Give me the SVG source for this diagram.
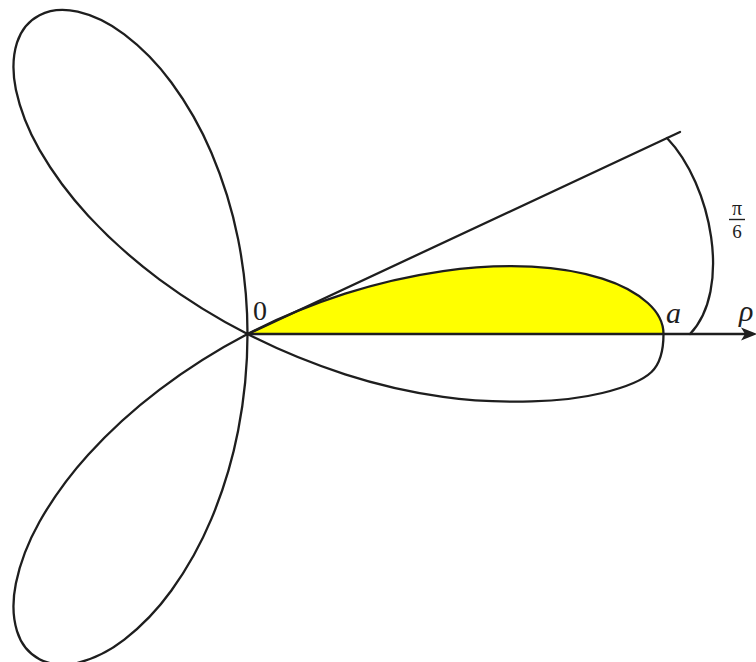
<svg xmlns="http://www.w3.org/2000/svg" width="756" height="662" viewBox="0 0 756 662">
<style>
.c{fill:none;stroke:#1e1e1e;stroke-width:2.3;stroke-linejoin:round;stroke-linecap:round}
.t{font-family:"Liberation Serif","DejaVu Serif",serif;fill:#1e1e1e}
.i{font-style:italic}
</style>
<rect width="756" height="662" fill="#ffffff"/>
<g id="shaded-region">
<path fill="#ffff00" stroke="none" d="M247.5,334 C278.9,317.9 312.5,304.2 345.1,293.7 C377.7,283.2 411.9,275.6 443,271.1 C474.1,266.6 505.2,265.4 531.7,266.6 C558.3,267.9 583,272.5 602.3,278.6 C621.7,284.7 637.6,293.8 647.8,303 C658,312.2 663.5,323.3 663.5,334 Z"/>
</g>
<g id="leaf-top">
<path class="c" d="M247.5,334 C247.5,301.9 244.1,269.3 238.1,239.1 C232.1,208.9 222.5,178.8 211.4,152.7 C200.3,126.6 185.9,102.2 171.4,82.5 C156.9,62.8 139.9,46.2 124.3,34.4 C108.7,22.6 91.8,14.9 77.7,11.7 C63.6,8.5 49.6,10 39.5,15.2 C29.4,20.4 20.9,30.3 17,42.7 C13.1,55.1 12.2,71.8 15.9,89.7 C19.7,107.6 27.5,128.9 39.5,149.9 C51.6,170.9 68.2,194.1 88.2,215.7 C108.2,237.3 132.8,259.6 159.3,279.3 C185.9,299 216.1,317.9 247.5,334"/>
</g>
<g id="leaf-bottom">
<path class="c" vector-effect="non-scaling-stroke" transform="matrix(1 0 0 -1.02 0 674.68)" d="M247.5,334 C247.5,301.9 244.1,269.3 238.1,239.1 C232.1,208.9 222.5,178.8 211.4,152.7 C200.3,126.6 185.9,102.2 171.4,82.5 C156.9,62.8 139.9,46.2 124.3,34.4 C108.7,22.6 91.8,14.9 77.7,11.7 C63.6,8.5 49.6,10 39.5,15.2 C29.4,20.4 20.9,30.3 17,42.7 C13.1,55.1 12.2,71.8 15.9,89.7 C19.7,107.6 27.5,128.9 39.5,149.9 C51.6,170.9 68.2,194.1 88.2,215.7 C108.2,237.3 132.8,259.6 159.3,279.3 C185.9,299 216.1,317.9 247.5,334"/>
</g>
<g id="leaf-right">
<path class="c" d="M247.5,334 C278.9,317.9 312.5,304.2 345.1,293.7 C377.7,283.2 411.9,275.6 443,271.1 C474.1,266.6 505.2,265.4 531.7,266.6 C558.3,267.9 583,272.5 602.3,278.6 C621.7,284.7 637.6,293.8 647.8,303 C658,312.2 663.5,323.3 663.5,334 C663.5,348 661.7,362.2 651.5,372 C641.3,381.8 622.3,388.1 602.3,393 C582.3,397.9 558.3,400.8 531.7,401.4 C505.2,402.1 474.1,401.4 443,396.9 C411.9,392.4 377.7,384.8 345.1,374.3 C312.5,363.8 278.9,350.1 247.5,334"/>
</g>
<g id="connectors">
<line class="c" x1="248" y1="334" x2="745" y2="334" stroke-width="2.6"/>
<polygon points="757,334 741,327.5 745,334 741,340.5" fill="#1e1e1e"/>
<line class="c" x1="248" y1="334" x2="680" y2="132"/>
<path class="c" d="M667,138 C712,185 732,290 690,334"/>
</g>
<g id="labels">
<text class="t" x="253" y="320" font-size="28">0</text>
<text class="t i" x="666" y="323" font-size="30">a</text>
<text class="t i" x="739" y="321" font-size="30">ρ</text>
<text class="t" x="737" y="215" font-size="20" text-anchor="middle">π</text>
<line x1="729" y1="219.5" x2="745" y2="219.5" stroke="#1e1e1e" stroke-width="1.4"/>
<text class="t" x="737" y="238" font-size="19" text-anchor="middle">6</text>
</g>
</svg>
